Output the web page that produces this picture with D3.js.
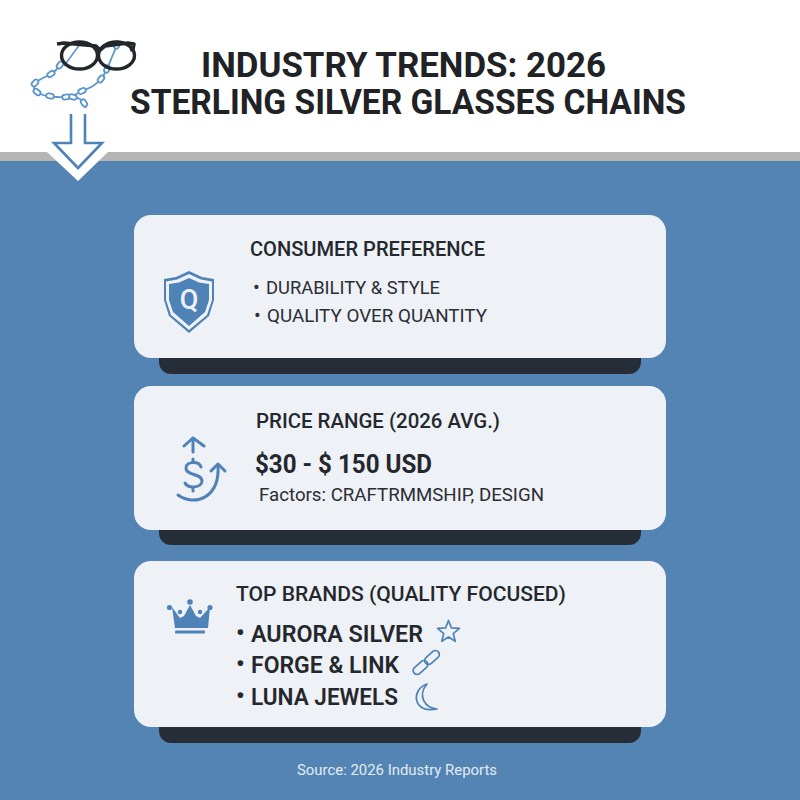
<!DOCTYPE html>
<html>
<head>
<meta charset="utf-8">
<script src="https://cdn.jsdelivr.net/npm/d3@7"></script>
<style>
  html, body { margin: 0; padding: 0; background: #fff; }
  svg { display: block; }
  text { font-family: Roboto, sans-serif; }
</style>
</head>
<body>
<div id="chart"></div>
<script>
const titleLines = ['INDUSTRY TRENDS: 2026', 'STERLING SILVER GLASSES CHAINS'];
const cardNames = ['consumer', 'price', 'brands'];
const cardHeadings = ['CONSUMER PREFERENCE', 'PRICE RANGE (2026 AVG.)', 'TOP BRANDS (QUALITY FOCUSED)'];
const consumerItems = ['DURABILITY & STYLE', 'QUALITY OVER QUANTITY'];
const priceRange = '$30 - $ 150 USD';
const priceNote = 'Factors: CRAFTRMMSHIP, DESIGN';
const brandItems = ['AURORA SILVER', 'FORGE & LINK', 'LUNA JEWELS'];
const sourceNote = 'Source: 2026 Industry Reports';

const blue = '#5484b4';
const iconBlue = '#4f82b6';
const chainBlue = '#5b95cc';
const dark = '#24282d';
const cardFill = '#eef1f6';
const width = 800;
const height = 800;

const svg = d3.select('#chart')
    .append('svg')
    .attr('width', width)
    .attr('height', height)
    .attr('viewBox', `0 0 ${width} ${height}`);

function label(parent, str, x, y, size, weight, len, fill = dark) {
    const t = parent.append('text')
        .attr('x', x)
        .attr('y', y)
        .attr('font-size', size)
        .attr('font-weight', weight)
        .attr('fill', fill)
        .text(str);
    if (len) {
        t.attr('textLength', len).attr('lengthAdjust', 'spacingAndGlyphs');
    }
    return t;
}

// backdrop
svg.append('rect').attr('width', width).attr('height', 153).attr('fill', '#fff');
svg.append('rect').attr('y', 152).attr('width', width).attr('height', 10).attr('fill', '#b5b5b5');
svg.append('rect').attr('y', 161).attr('width', width).attr('height', 639).attr('fill', blue);

// title
label(svg, titleLines[0], 201, 77, 35, 700, 405, '#202226');
label(svg, titleLines[1], 130, 114, 35, 700, 556, '#202226');

drawArrow();
drawGlasses();

// cards
const cardBands = [
    { top: 215, bottom: 358, under: 374 },
    { top: 386, bottom: 530, under: 545 },
    { top: 561, bottom: 727, under: 743 }
];

const cards = svg.append('g')
    .selectAll('g')
    .data(cardNames)
    .join('g')
    .attr('class', name => `card card-${name}`);

cards.append('rect')
    .attr('x', 159)
    .attr('y', (name, i) => cardBands[i].bottom - 20)
    .attr('width', 482)
    .attr('height', (name, i) => cardBands[i].under - cardBands[i].bottom + 20)
    .attr('rx', 12)
    .attr('fill', '#262d36');

cards.append('rect')
    .attr('x', 134)
    .attr('y', (name, i) => cardBands[i].top)
    .attr('width', 532)
    .attr('height', (name, i) => cardBands[i].bottom - cardBands[i].top)
    .attr('rx', 17)
    .attr('fill', cardFill);

// consumer card
label(svg, cardHeadings[0], 250, 256, 20, 500, 235);
label(svg, '•', 253, 294, 20, 400, null, '#2b2e33');
label(svg, consumerItems[0], 266, 294, 18, 400, 174, '#2b2e33');
label(svg, '•', 254, 322, 20, 400, null, '#2b2e33');
label(svg, consumerItems[1], 267, 322, 18, 400, 220, '#2b2e33');

// price card
label(svg, cardHeadings[1], 256, 428, 20, 500, 244);
label(svg, priceRange, 255, 473, 25, 700, 177);
label(svg, priceNote, 259, 501, 17.5, 400, 285, '#2b2e33');

// brands card
label(svg, cardHeadings[2], 236, 601, 20, 500, 330);
const brandY = [642, 673, 705];
const brandLen = [172, 148, 147];
brandItems.forEach((brand, i) => {
    label(svg, '•', 236, brandY[i] - 1, 24, 700, null);
    label(svg, brand, 251, brandY[i], 23, 600, brandLen[i]);
});

label(svg, sourceNote, 297, 775, 14, 400, 200, '#e3ebf3');

drawShield();
drawDollar();
drawCrown();
drawBrandIcons();

function drawArrow() {
    const line = d3.line();
    svg.append('path')
        .attr('d', line([[47, 152], [78, 181], [108, 152]]))
        .attr('fill', '#fff');
    svg.append('path')
        .attr('d', line([[71, 114], [71, 143], [54, 143], [78, 168], [102, 143], [85, 143], [85, 114]]))
        .attr('fill', 'none')
        .attr('stroke', iconBlue)
        .attr('stroke-width', 2.6);
}

function drawGlasses() {
    const g = svg.append('g');
    const chainLeft = [[60, 65], [56, 70], [51, 74], [43, 78], [35, 83], [34, 88], [37, 92], [43, 95], [50, 96], [57, 97], [66, 97], [74, 95], [82, 91], [93, 86], [101, 79], [107, 69]];
    const chainRight = [[107, 69], [112, 57], [117, 45]];
    const chainTail = [[73, 97], [80, 99], [84, 103], [86, 108]];

    for (const chain of [chainLeft, chainRight, chainTail]) {
        g.append('path')
            .attr('d', d3.line().curve(d3.curveCatmullRom)(chain))
            .attr('fill', 'none')
            .attr('stroke', chainBlue)
            .attr('stroke-width', 1.8);
        chain.forEach((p, i) => {
            if (i % 2 === 1) {
                return;
            }
            const next = chain[i + 1] || chain[i];
            const prev = chain[i - 1] || chain[i];
            const angle = Math.atan2(next[1] - prev[1], next[0] - prev[0]) * 180 / Math.PI;
            g.append('rect')
                .attr('x', -3.8)
                .attr('y', -2.4)
                .attr('width', 7.6)
                .attr('height', 4.8)
                .attr('rx', 2.4)
                .attr('transform', `translate(${p[0]},${p[1]}) rotate(${angle})`)
                .attr('fill', '#fff')
                .attr('stroke', chainBlue)
                .attr('stroke-width', 1.8);
        });
    }

    g.append('line')
        .attr('x1', 64).attr('y1', 66).attr('x2', 80).attr('y2', 44)
        .attr('stroke', chainBlue).attr('stroke-width', 1.6);

    for (const cx of [79.5, 116.5]) {
        g.append('ellipse')
            .attr('cx', cx).attr('cy', 55.5)
            .attr('rx', 18).attr('ry', 13.5)
            .attr('fill', 'none')
            .attr('stroke', '#23262b')
            .attr('stroke-width', 3.4);
    }
    g.append('path')
        .attr('d', d3.line()([[57, 44], [64, 43], [96, 46], [100, 50], [105, 46], [128, 43], [134, 44], [133, 49], [130, 50]]))
        .attr('fill', 'none')
        .attr('stroke', '#23262b')
        .attr('stroke-width', 3.6)
        .attr('stroke-linejoin', 'round');
}

function drawShield() {
    const outline = d3.line()([[189, 271], [202, 277], [214, 279], [214, 300], [209, 316], [189, 333], [169, 316], [164, 300], [164, 279], [176, 277]]) + 'Z';
    const inner = d3.line()([[189, 274], [201, 279.5], [212, 281.5], [212, 300], [207, 315], [189, 330], [171, 315], [166, 300], [166, 281.5], [177, 279.5]]) + 'Z';
    const core = d3.line()([[189, 278], [199, 282.5], [209, 284], [209, 300], [205, 312], [189, 326], [173, 312], [169, 300], [169, 284], [179, 282.5]]) + 'Z';
    svg.append('path').attr('d', outline).attr('fill', iconBlue);
    svg.append('path').attr('d', inner).attr('fill', cardFill);
    svg.append('path').attr('d', core).attr('fill', iconBlue);
    svg.append('text')
        .attr('x', 189)
        .attr('y', 309)
        .attr('text-anchor', 'middle')
        .attr('font-size', 27)
        .attr('font-weight', 500)
        .attr('fill', cardFill)
        .text('Q');
}

function drawDollar() {
    const g = svg.append('g')
        .attr('fill', 'none')
        .attr('stroke', iconBlue)
        .attr('stroke-width', 3)
        .attr('stroke-linecap', 'round')
        .attr('stroke-linejoin', 'round');
    const line = d3.line();
    g.append('path').attr('d', line([[193, 452], [193, 438]]));
    g.append('path').attr('d', line([[184, 446], [193, 438], [204, 446]]));
    g.append('path').attr('d', 'M178,495 C195,507 220,498 218,465');
    g.append('path').attr('d', line([[211, 471], [218, 464], [225, 471]]));
    g.append('line').attr('x1', 193).attr('x2', 193).attr('y1', 459).attr('y2', 462);
    g.append('line').attr('x1', 193).attr('x2', 193).attr('y1', 489).attr('y2', 491);
    g.append('path').attr('d', 'M201,467 C199,461 186,461 186,468 C186,476 202,473 202,481 C202,488 188,489 185,483');
}

function drawCrown() {
    const g = svg.append('g').attr('fill', iconBlue);
    const body = [[172, 607], [180, 618], [184, 616], [190, 605], [196, 616], [200, 618], [210, 607], [208, 628], [175, 628]];
    g.append('path').attr('d', d3.line()(body) + 'Z');
    for (const p of [[169.5, 607.5, 2.6], [190, 602, 2.8], [210, 607.5, 2.6], [180, 612, 2.2], [200, 612, 2.2]]) {
        g.append('circle').attr('cx', p[0]).attr('cy', p[1]).attr('r', p[2]);
    }
    g.append('rect').attr('x', 175).attr('y', 630.5).attr('width', 30).attr('height', 3).attr('rx', 1);
}

function drawBrandIcons() {
    const g = svg.append('g')
        .attr('fill', 'none')
        .attr('stroke', iconBlue)
        .attr('stroke-width', 1.7)
        .attr('stroke-linejoin', 'round');

    // star
    const star = d3.range(10).map(i => {
        const r = i % 2 ? 5 : 11.5;
        const a = -Math.PI / 2 + i * Math.PI / 5;
        return [448.5 + r * Math.cos(a), 632 + r * Math.sin(a)];
    });
    g.append('path').attr('d', d3.line()(star) + 'Z');

    // chain link
    const links = [[420.5, 667.5], [432, 657.5]];
    links.forEach(p => {
        g.append('rect')
            .attr('x', -8.5).attr('y', -4)
            .attr('width', 17).attr('height', 8)
            .attr('rx', 4)
            .attr('transform', `translate(${p[0]},${p[1]}) rotate(-42)`);
    });

    // moon
    g.append('path').attr('d', 'M427,684 C411,689 412,714 437,709 C425,708 417,696 427,684Z');
}
</script>
</body>
</html>
